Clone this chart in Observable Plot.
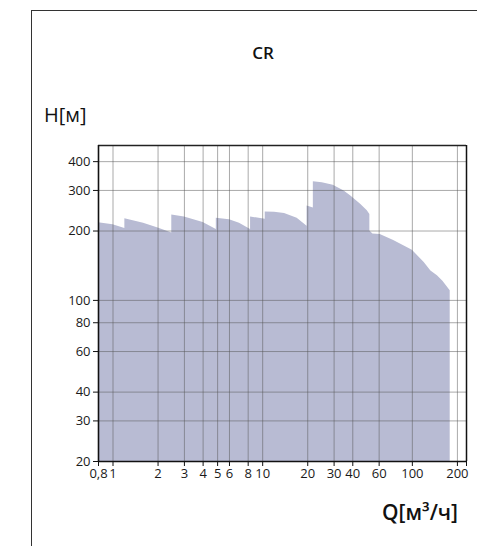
<!DOCTYPE html>
<html>
<head>
<meta charset="utf-8">
<script src="https://cdn.jsdelivr.net/npm/d3@7"></script>
<script src="https://cdn.jsdelivr.net/npm/@observablehq/plot@0.6"></script>
<style>
  html, body { margin: 0; padding: 0; background: #fff; }
  body { width: 477px; height: 546px; position: relative; overflow: hidden; font-family: "Open Sans", "Noto Sans", sans-serif; color: #111; }
  #box { position: absolute; left: 31px; top: 10px; right: -5px; bottom: -5px; border-left: 1.5px solid #333; border-top: 1.5px solid #333; }
  #title { position: absolute; left: 263px; top: 41px; transform: translateX(-50%); font-size: 17px; font-weight: 600; }
  #ylabel { position: absolute; left: 44px; top: 101px; font-size: 20px; font-weight: 500; }
  #xlabel { position: absolute; left: 382px; top: 498px; font-size: 21px; font-weight: 600; }
  #chart { position: absolute; left: 0; top: 130px; }
</style>
</head>
<body>
<div id="box"></div>
<div id="title">CR</div>
<div id="ylabel">H[м]</div>
<div id="xlabel">Q[м³/ч]</div>
<div id="chart"></div>
<script>
// Envelope of the CR pump range (Q in m³/h, H in m)
const flowQ = [0.8, 1.0, 1.2, 1.2, 1.6, 2.0, 2.47, 2.47, 3, 4, 4.9, 4.9, 6, 7, 8.3, 8.3, 10.4, 10.4, 12, 14, 17, 19.8, 19.8, 21.8, 21.8, 25, 29.6, 35, 38.8, 45.3, 50, 52, 52, 54.5, 61, 75, 100, 120, 133, 147, 160, 179];
const headH = [217, 213, 205, 226, 216, 206, 196, 235, 230, 218, 203, 227, 224, 216, 203, 230, 225, 242, 241, 238, 227, 210, 257, 252, 327, 324, 316, 298, 284, 261, 245, 236, 200, 194, 193, 182, 165, 146, 134, 128, 121, 110];

const xTicks = [0.8, 1, 2, 3, 4, 5, 6, 8, 10, 20, 30, 40, 60, 100, 200, 230];
const xTickLabels = ["0,8", "1", "2", "3", "4", "5", "6", "8", "10", "20", "30", "40", "60", "100", "200", ""];
const yTicks = [20, 30, 40, 60, 80, 100, 200, 300, 400];
const yTickLabels = ["20", "30", "40", "60", "80", "100", "200", "300", "400"];
const xGrid = [1, 2, 3, 4, 5, 6, 8, 10, 20, 30, 40, 60, 100, 200];
const yGrid = [30, 40, 60, 80, 100, 200, 300, 400];
const xDomain = [0.8, 230];
const yDomain = [20, 470];

const data = flowQ.map((q, i) => ({q, h: headH[i]}));
const xLab = xTicks.map((v, i) => ({v, t: xTickLabels[i]}));
const yLab = yTicks.map((v, i) => ({v, t: yTickLabels[i]}));

const font = '"Open Sans", "Noto Sans", sans-serif';

const chart = Plot.plot({
  width: 477,
  height: 360,
  marginLeft: 98,
  marginRight: 11,
  marginTop: 15,
  marginBottom: 29,
  style: {fontFamily: font, fontSize: "13px", color: "#1a1a1a", background: "transparent"},
  x: {type: "log", domain: xDomain, axis: null},
  y: {type: "log", domain: yDomain, axis: null},
  marks: [
    Plot.areaY(data, {x: "q", y1: yDomain[0], y2: "h", fill: "#b8bbd3", curve: "linear"}),
    Plot.ruleX(xGrid, {stroke: "#555", strokeOpacity: 0.5, strokeWidth: 1}),
    Plot.ruleY(yGrid, {stroke: "#555", strokeOpacity: 0.5, strokeWidth: 1}),
    Plot.axisX(xTicks, {anchor: "bottom", tickSize: 5, tickFormat: () => "", stroke: "#111", label: null}),
    Plot.axisY(yTicks, {anchor: "left", tickSize: 5, tickFormat: () => "", stroke: "#111", label: null}),
    Plot.text(xLab, {x: "v", text: "t", frameAnchor: "bottom", dy: 16, fontSize: 13, fill: "#1a1a1a"}),
    Plot.text(yLab, {y: "v", text: "t", frameAnchor: "left", dx: -8, textAnchor: "end", fontSize: 13, fill: "#1a1a1a"}),
    Plot.ruleY([yDomain[1]], {stroke: "#222", strokeWidth: 1.3}),
    Plot.ruleX([xDomain[1]], {stroke: "#111", strokeWidth: 1.5}),
    Plot.ruleX([xDomain[0]], {stroke: "#111", strokeWidth: 1.6}),
    Plot.ruleY([yDomain[0]], {stroke: "#111", strokeWidth: 1.6})
  ]
});
document.getElementById("chart").appendChild(chart);
</script>
</body>
</html>
